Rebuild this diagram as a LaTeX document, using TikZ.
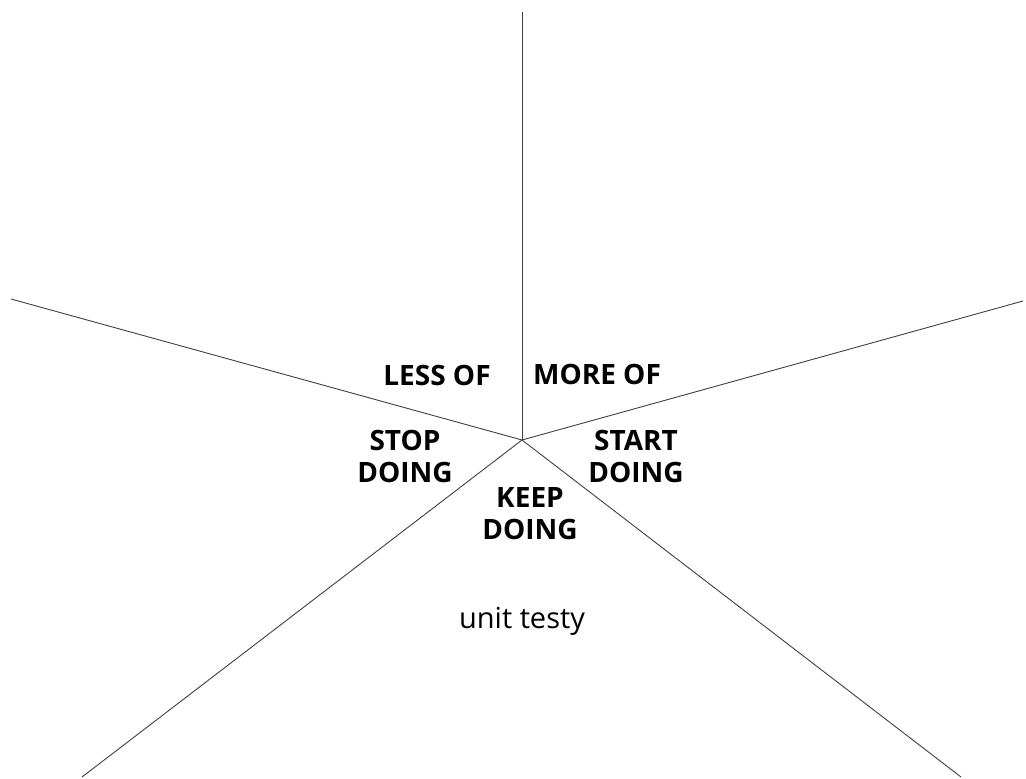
\documentclass[tikz,border=0pt]{standalone}
\usepackage{fontspec}
\setmainfont{Open Sans}
\usetikzlibrary{positioning}

\begin{document}
\begin{tikzpicture}[x=1pt, y=-1pt,
  spoke/.style={draw=black!75, line width=0.9pt},
  lbl/.style={font=\fontsize{28}{32}\selectfont\bfseries, align=center, inner sep=0pt},
  note/.style={font=\fontsize{29}{32}\selectfont, inner sep=0pt}]
\useasboundingbox (0,0) rectangle (1026,779);
\coordinate (c) at (522,440);
\coordinate (up) at (522,12);
\coordinate (lt) at (11,299);
\coordinate (rt) at (1023,301);
\coordinate (lb) at (82,777);
\coordinate (rb) at (961,777);
\draw[spoke] (c) -- (up);
\draw[spoke] (c) -- (lt);
\draw[spoke] (c) -- (rt);
\draw[spoke] (c) -- (lb);
\draw[spoke] (c) -- (rb);
\node[lbl] (less) at (437,375) {LESS OF};
\node[lbl] (more) at (597,374) {MORE OF};
\node[lbl] (stop) at (405,456) {STOP\\DOING};
\node[lbl] (start) at (636,456) {START\\DOING};
\node[lbl] (keep) at (530,514) {KEEP\\DOING};
\node[note] (unit) at (522,621) {unit testy};
\end{tikzpicture}
\end{document}
